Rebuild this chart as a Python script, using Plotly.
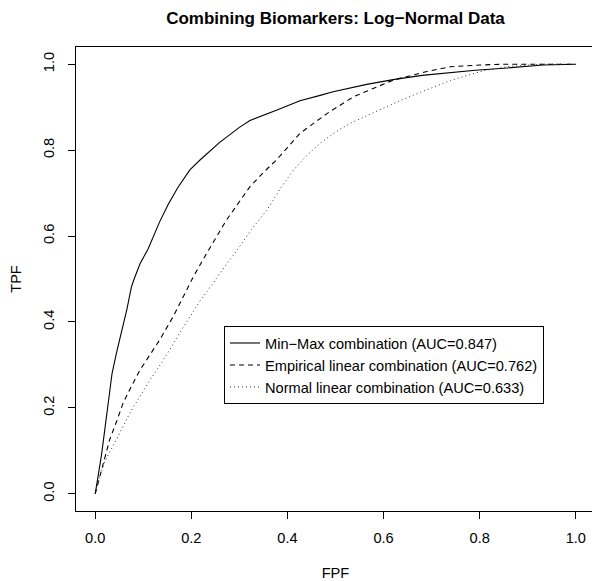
import plotly.graph_objects as go

# Min-Max combination (solid)
minmax_fpf = [0, 0.006, 0.013, 0.020, 0.027, 0.035, 0.044, 0.051, 0.058, 0.066, 0.075, 0.080, 0.093,
              0.110, 0.134, 0.152, 0.172, 0.197, 0.218, 0.259, 0.300, 0.322, 0.377, 0.426, 0.470,
              0.495, 0.565, 0.620, 0.680, 0.739, 0.791, 0.843, 0.932, 1.0]
minmax_tpf = [0, 0.04, 0.09, 0.15, 0.21, 0.28, 0.327, 0.36, 0.389, 0.43, 0.48, 0.497, 0.535,
              0.57, 0.633, 0.674, 0.713, 0.754, 0.777, 0.818, 0.853, 0.869, 0.893, 0.915, 0.928,
              0.936, 0.953, 0.964, 0.974, 0.981, 0.986, 0.990, 0.998, 1.0]

# Empirical linear combination (dashed)
emp_fpf = [0, 0.006, 0.018, 0.03, 0.045, 0.058, 0.075, 0.093, 0.113, 0.134, 0.162, 0.183, 0.204,
           0.232, 0.273, 0.322, 0.350, 0.377, 0.404, 0.426, 0.482, 0.537, 0.586, 0.62, 0.686,
           0.739, 0.80, 0.85, 1.0]
emp_tpf = [0, 0.025, 0.08, 0.126, 0.17, 0.211, 0.25, 0.288, 0.322, 0.358, 0.412, 0.458, 0.505,
           0.56, 0.637, 0.715, 0.748, 0.777, 0.81, 0.839, 0.885, 0.924, 0.947, 0.963, 0.982,
           0.994, 0.998, 1.0, 1.0]

# Normal linear combination (dotted)
norm_fpf = [0, 0.009, 0.02, 0.037, 0.055, 0.072, 0.09, 0.114, 0.135, 0.155, 0.176, 0.197, 0.22,
            0.245, 0.27, 0.294, 0.325, 0.357, 0.385, 0.412, 0.44, 0.468, 0.50, 0.53, 0.558,
            0.586, 0.634, 0.68, 0.739, 0.808, 0.862, 0.932, 1.0]
norm_tpf = [0, 0.04, 0.075, 0.11, 0.15, 0.188, 0.222, 0.265, 0.30, 0.335, 0.375, 0.412, 0.452,
            0.49, 0.53, 0.565, 0.615, 0.66, 0.71, 0.753, 0.787, 0.816, 0.842, 0.862, 0.876,
            0.890, 0.915, 0.936, 0.962, 0.985, 0.995, 1.0, 1.0]

names = ["Min\u2212Max combination (AUC=0.847)",
         "Empirical linear combination (AUC=0.762)",
         "Normal linear combination (AUC=0.633)"]

tick_vals = [0.0, 0.2, 0.4, 0.6, 0.8, 1.0]
tick_text = ["0.0", "0.2", "0.4", "0.6", "0.8", "1.0"]

FONT = "Liberation Sans, Arial, Helvetica, sans-serif"

# The page body has an 8px margin, so the figure is sized to fit inside the window.
W, H = 592, 573
ML, MR, MT, MB = 68, 5, 39, 70
PW, PH = W - ML - MR, H - MT - MB

fig = go.Figure()
fig.add_trace(go.Scatter(x=minmax_fpf, y=minmax_tpf, mode="lines", name=names[0],
                         line=dict(color="black", width=1.1)))
fig.add_trace(go.Scatter(x=emp_fpf, y=emp_tpf, mode="lines", name=names[1],
                         line=dict(color="black", width=1.1, dash="5px,4px")))
fig.add_trace(go.Scatter(x=norm_fpf, y=norm_tpf, mode="lines", name=names[2],
                         line=dict(color="#333333", width=1, dash="1px,3px")))

axis_common = dict(
    tickvals=tick_vals, ticktext=tick_text, ticks="outside", ticklen=7, tickwidth=1,
    tickcolor="black", showline=True, linecolor="black", linewidth=1, mirror=True,
    showgrid=False, zeroline=False, range=[-0.04, 1.04], automargin=False,
    tickfont=dict(family=FONT, size=14.6, color="black"),
)

fig.update_layout(
    width=W, height=H,
    margin=dict(l=ML, r=MR, t=MT, b=MB),
    paper_bgcolor="white", plot_bgcolor="white",
    font=dict(family=FONT, size=14.6, color="black"),
    title=dict(text="<b>Combining Biomarkers: Log\u2212Normal Data</b>",
               x=(ML + PW / 2) / W, xanchor="center", xref="container",
               y=1 - 10 / H, yanchor="middle", yref="container",
               font=dict(family=FONT, size=17, color="black")),
    xaxis=dict(**axis_common, ticklabelstandoff=6,
               title=dict(text="FPF", standoff=29, font=dict(family=FONT, size=14.6))),
    yaxis=dict(**axis_common, tickangle=-90, ticklabelstandoff=8,
               title=dict(text="TPF", standoff=24, font=dict(family=FONT, size=14.6))),
    legend=dict(x=(224 - 76) / PW, y=(511 - 326) / PH, xanchor="left", yanchor="top",
                bordercolor="black", borderwidth=1, bgcolor="white",
                font=dict(family=FONT, size=14.6, color="black"), tracegroupgap=0),
    showlegend=True,
)

fig.write_html("out.html")
